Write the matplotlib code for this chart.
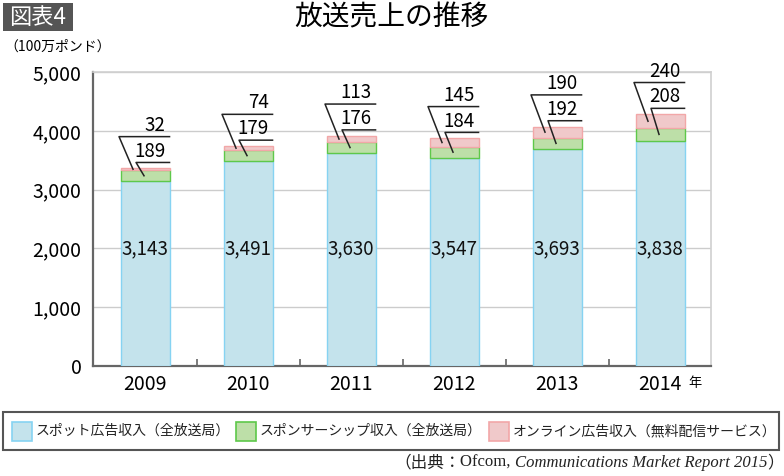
import matplotlib
matplotlib.use("Agg")
import matplotlib.pyplot as plt
from matplotlib.patches import Rectangle
import numpy as np

plt.rcParams['font.family'] = ['Noto Sans CJK JP', 'DejaVu Sans']

years = ["2009", "2010", "2011", "2012", "2013", "2014"]
spot = [3143, 3491, 3630, 3547, 3693, 3838]
sponsor = [189, 179, 176, 184, 192, 208]
online = [32, 74, 113, 145, 190, 240]
series_names = ["スポット広告収入（全放送局）", "スポンサーシップ収入（全放送局）", "オンライン広告収入（無料配信サービス）"]
title = "放送売上の推移"
unit_label = "（100万ポンド）"
fig_label = "図表4"
year_suffix = "年"

fills = ["#c4e3ec", "#bddfa8", "#f0c9ca"]
edges = ["#86d3f2", "#5ec84a", "#f2a7a8"]

W, H = 784, 476
fig = plt.figure(figsize=(W / 100, H / 100), dpi=100)
ax_l, ax_r, ax_t, ax_b = 92.7, 711.0, 72.3, 365.8
ax = fig.add_axes([ax_l / W, 1 - ax_b / H, (ax_r - ax_l) / W, (ax_b - ax_t) / H])

x = np.arange(len(years))
bw = 0.476
spot = np.array(spot); sponsor = np.array(sponsor); online = np.array(online)
ax.bar(x, spot, bw, color=fills[0], edgecolor=edges[0], linewidth=1, zorder=3)
ax.bar(x, sponsor, bw, bottom=spot, color=fills[1], edgecolor=edges[1], linewidth=1, zorder=3)
ax.bar(x, online, bw, bottom=spot + sponsor, color=fills[2], edgecolor=edges[2], linewidth=1, zorder=3)

ax.set_xlim(-0.508, 5.495)
ax.set_ylim(0, 5000)
ax.set_yticks(np.arange(0, 5001, 1000))
ax.set_yticklabels([f"{v:,}" for v in range(0, 5001, 1000)], fontsize=14)
ax.set_xticks(x)
ax.set_xticklabels(years, fontsize=14)
ax.set_xticks(x[:-1] + 0.5, minor=True)
ax.tick_params(axis='x', which='major', length=0, pad=6)
ax.tick_params(axis='x', which='minor', direction='in', length=5, color='#666666', width=1.2)
ax.tick_params(axis='y', length=0, pad=8)
ax.grid(axis='y', color='#cccccc', linewidth=1, zorder=0)
ax.set_axisbelow(True)
for s in ['top', 'right']:
    ax.spines[s].set_color('#d0d0d0'); ax.spines[s].set_linewidth(1.2)
for s in ['left', 'bottom']:
    ax.spines[s].set_color('#666666'); ax.spines[s].set_linewidth(1.6)

px = 1 / 103.0  # data units per pixel in x
for i in range(len(years)):
    c = x[i]
    total = spot[i] + sponsor[i] + online[i]
    ax.text(c, 2000, f"{spot[i]:,}", ha='center', va='center', fontsize=13.5, zorder=5, color='#111111')
    h1 = total + 100
    h2 = h1 + 440
    gm = spot[i] + sponsor[i] / 2
    pm = spot[i] + sponsor[i] + online[i] / 2
    right = c + bw / 2
    ax.plot([c - 1 * px, c - 9 * px, right], [gm, h1, h1], color='#222222', lw=1.1, zorder=6, clip_on=False)
    ax.plot([c - 12 * px, c - 26 * px, right], [pm, h2, h2], color='#222222', lw=1.1, zorder=6, clip_on=False)
    ax.text(right - 4 * px, h1 + 15, f"{sponsor[i]}", ha='right', va='bottom', fontsize=13.5, zorder=6)
    ax.text(right - 4 * px, h2 + 15, f"{online[i]}", ha='right', va='bottom', fontsize=13.5, zorder=6)

# 年 after last tick label
ax.annotate(year_suffix, xy=(x[-1], 0), xycoords='data', xytext=(35, -18), textcoords='offset pixels',
            ha='center', va='center', fontsize=9.5)

# title and labels
fig.text(391 / W, 1 - 17 / H, title, ha='center', va='center', fontsize=20)
fig.text(4 / W, 1 - 47 / H, unit_label, ha='left', va='center', fontsize=10)
fig.patches.append(Rectangle((3 / W, 1 - 31 / H), 70 / W, 28 / H, transform=fig.transFigure,
                             facecolor='#555555', edgecolor='none'))
fig.text(38 / W, 1 - 17 / H, fig_label, ha='center', va='center', fontsize=16, color='white')

# legend (manual)
fig.patches.append(Rectangle((3 / W, 1 - 450 / H), 776 / W, 38.3 / H, transform=fig.transFigure,
                             facecolor='white', edgecolor='#555555', linewidth=1.5))
patch_x = [12, 236, 489]
text_x = [36, 260, 513]
for k in range(3):
    fig.patches.append(Rectangle((patch_x[k] / W, 1 - 441 / H), 20 / W, 19 / H, transform=fig.transFigure,
                                 facecolor=fills[k], edgecolor=edges[k], linewidth=1.2))
    fig.text(text_x[k] / W, 1 - 431 / H, series_names[k], ha='left', va='center', fontsize=10, color='#222222')

# source line (right aligned, built from pieces)
fig.canvas.draw()
r = fig.canvas.get_renderer()
pieces = [("（出典：", dict(family=['Noto Sans CJK JP'], style='normal')),
          ("Ofcom, ", dict(family=['Liberation Serif'], style='normal')),
          ("Communications Market Report 2015", dict(family=['Liberation Serif'], style='italic')),
          ("）", dict(family=['Noto Sans CJK JP'], style='normal'))]
xr = 784.0
ybase = 1 - 467 / H
for txt, kw in reversed(pieces):
    t = fig.text(xr / W, ybase, txt, ha='right', va='baseline', fontsize=12, color='#222222', **kw)
    bb = t.get_window_extent(renderer=r)
    xr -= bb.width

fig.savefig("out.png", dpi=100)
